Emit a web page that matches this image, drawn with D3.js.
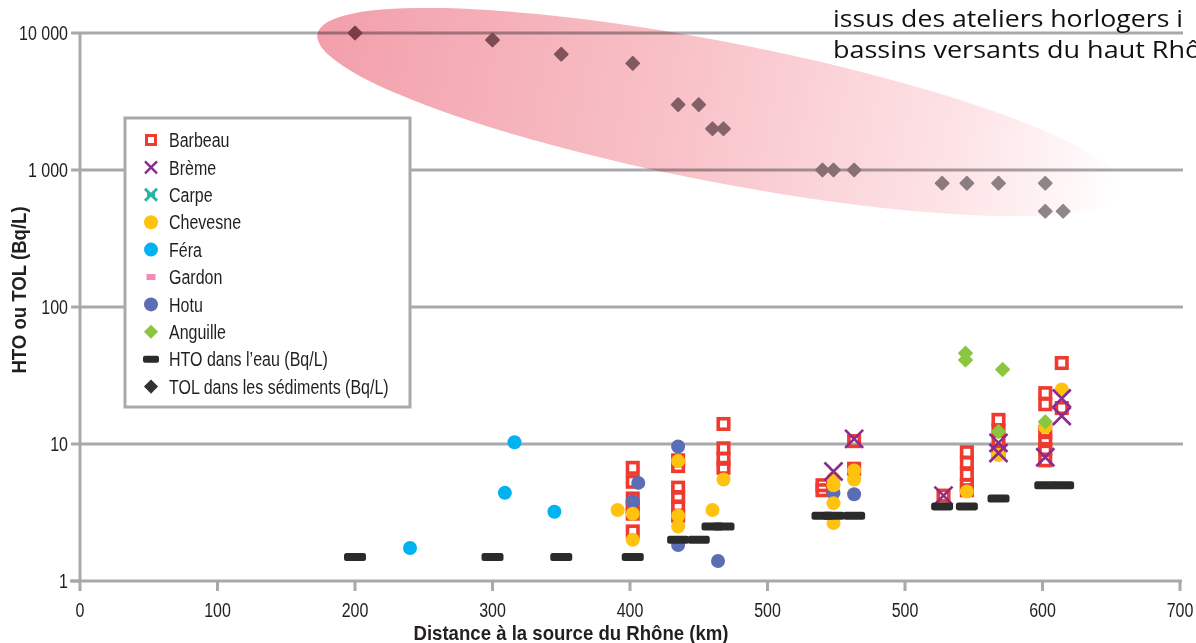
<!DOCTYPE html>
<html>
<head>
<meta charset="utf-8">
<script src="https://cdn.jsdelivr.net/npm/d3@7"></script>
<style>
  body { margin: 0; background: #fff; }
  svg { display: block; }
</style>
</head>
<body>
<div id="chart"></div>
<script>
// axis ticks (the source figure really labels two ticks "500")
const kmTicks = [0, 100, 200, 300, 400, 500, 600, 700, 800];
const kmTickLabels = ["0", "100", "200", "300", "400", "500", "500", "600", "700"];
const yTicks = [1, 10, 100, 1000, 10000];
const yTickLabels = ["1", "10", "100", "1 000", "10 000"];

// [distance km, Bq/L]
const barbeau = [
  [402, 6.7], [402, 5.3], [402, 4.0], [402, 3.5], [402, 3.1], [402, 2.3],
  [435, 7.6], [435, 6.9], [435, 4.8], [435, 4.1], [435, 3.5], [435, 3.0],
  [468, 14], [468, 9.3], [468, 7.8], [468, 6.7],
  [540, 5.0], [540, 4.6], [563, 10.5], [563, 6.6],
  [628, 4.2], [645, 8.7], [645, 7.3], [645, 6.0], [645, 5.0], [645, 4.6],
  [668, 15], [668, 12.6], [668, 10.5], [668, 8.7],
  [702, 23.5], [702, 19.5], [702, 12.2], [702, 10.5], [702, 9.2], [702, 7.6],
  [714, 39], [714, 18.3]
];
const hotu = [[406, 5.2], [402, 3.8], [435, 9.6], [435, 1.83], [464, 1.4], [548, 4.4], [563, 4.3]];
const chevesne = [
  [391, 3.3], [402, 3.1], [402, 2.0], [435, 7.5], [435, 3.0], [435, 2.5], [460, 3.3], [468, 5.5],
  [548, 5.6], [548, 5.0], [548, 3.7], [548, 2.65], [563, 6.4], [563, 5.5],
  [645, 4.5], [668, 8.3], [702, 13.3], [714, 25]
];
const fera = [[240, 1.74], [309, 4.4], [316, 10.3], [345, 3.2]];
const breme = [[563, 10.9], [548, 6.3], [628, 4.2], [668, 10.2], [668, 8.6], [702, 8.0], [714, 21.5], [714, 16]];
const anguille = [[644, 46], [644, 41], [671, 35], [668, 12.3], [702, 14.5]];
const htoEau = [
  [200, 1.5], [300, 1.5], [350, 1.5], [402, 1.5], [435, 2], [450, 2], [460, 2.5], [468, 2.5],
  [540, 3], [548, 3], [563, 3], [627, 3.5], [645, 3.5], [668, 4], [702, 5], [715, 5]
];
const tolSed = [
  [200, 10000], [300, 8900], [350, 7000], [402, 6000], [435, 3000], [450, 3000], [460, 2000], [468, 2000],
  [540, 1000], [548, 1000], [563, 1000], [627, 800], [645, 800], [668, 800], [702, 800], [702, 500], [715, 500]
];

const width = 1196, height = 643;
const font = "'Liberation Sans', Arial, sans-serif";
const squeeze = 0.8; // fake Arial Narrow
const grey = "#a7a9ac";
const ink = "#231f20";

const x = d3.scaleLinear().domain([0, 800]).range([80, 1180]);
const y = d3.scaleLog().domain([1, 10000]).range([581, 33]);

const svg = d3.select("#chart").append("svg")
    .attr("width", width)
    .attr("height", height)
    .style("font-family", font);

// narrow text helper
const narrowText = (g, tx, ty, str, opts = {}) => g.append("text")
    .attr("transform", `translate(${tx},${ty})${opts.rotate ? " rotate(" + opts.rotate + ")" : ""} scale(${opts.sx || squeeze},1)`)
    .attr("text-anchor", opts.anchor || "start")
    .attr("dy", opts.dy || null)
    .attr("font-size", opts.size || 20)
    .attr("font-weight", opts.bold ? "bold" : null)
    .attr("fill", ink)
    .text(str);

// gridlines
svg.append("g").selectAll("line")
    .data(yTicks.slice(1))
    .join("line")
    .attr("x1", 80).attr("x2", 1183)
    .attr("y1", d => y(d)).attr("y2", d => y(d))
    .attr("stroke", grey).attr("stroke-width", 3);

// pink band
const defs = svg.append("defs");
const grad = defs.append("linearGradient").attr("id", "pinkFade")
    .attr("x1", 0).attr("x2", 1).attr("y1", 0).attr("y2", 0);
grad.append("stop").attr("offset", 0).attr("stop-color", "#f29fab");
grad.append("stop").attr("offset", 0.45).attr("stop-color", "#f8c2c8");
grad.append("stop").attr("offset", 0.8).attr("stop-color", "#fde4e7");
grad.append("stop").attr("offset", 1).attr("stop-color", "#ffffff");

svg.append("ellipse")
    .attr("cx", 0).attr("cy", 0).attr("rx", 410).attr("ry", 70)
    .attr("transform", "translate(720,112) rotate(11)")
    .attr("fill", "url(#pinkFade)")
    .style("mix-blend-mode", "multiply");

// TOL diamonds, darker where the band is deeper
const tolColor = d3.scaleLinear().domain([200, 700]).range(["#7a3c47", "#8d8586"]);
svg.append("g").selectAll("rect")
    .data(tolSed)
    .join("rect")
    .attr("x", -5.5).attr("y", -5.5).attr("width", 11).attr("height", 11).attr("rx", 1)
    .attr("transform", d => `translate(${x(d[0])},${y(d[1])}) rotate(45)`)
    .attr("fill", d => tolColor(d[0]));

// axes
const axis = svg.append("g").attr("stroke", grey).attr("stroke-width", 3);
axis.append("line").attr("x1", 80).attr("x2", 80).attr("y1", 33).attr("y2", 582);
axis.append("line").attr("x1", 70).attr("x2", 1182).attr("y1", 581).attr("y2", 581);
axis.selectAll(".yt").data(yTicks).join("line").attr("class", "yt")
    .attr("x1", 71).attr("x2", 80).attr("y1", d => y(d)).attr("y2", d => y(d));
axis.selectAll(".xt").data(kmTicks).join("line").attr("class", "xt")
    .attr("x1", d => x(d)).attr("x2", d => x(d)).attr("y1", 581).attr("y2", 591);

const yLab = svg.append("g");
yTicks.forEach((t, i) => narrowText(yLab, 68, y(t), yTickLabels[i], { anchor: "end", dy: "0.36em" }));

const xLab = svg.append("g");
kmTicks.forEach((t, i) => narrowText(xLab, x(t), 617, kmTickLabels[i], { anchor: "middle" }));

narrowText(svg, 571, 640, "Distance à la source du Rhône (km)", { anchor: "middle", bold: true, size: 20, sx: 0.93 });
narrowText(svg, 26, 290, "HTO ou TOL (Bq/L)", { anchor: "middle", bold: true, size: 20, sx: 0.93, rotate: -90 });

// symbol makers
const marks = svg.append("g");

const squares = (g, data, s) => g.selectAll(null).data(data).join("rect")
    .attr("x", d => x(d[0]) - s / 2).attr("y", d => y(d[1]) - s / 2)
    .attr("width", s).attr("height", s)
    .attr("fill", "none").attr("stroke", "#ee3a2f").attr("stroke-width", 3.6);

const circles = (g, data, color, r) => g.selectAll(null).data(data).join("circle")
    .attr("cx", d => x(d[0])).attr("cy", d => y(d[1])).attr("r", r)
    .attr("fill", color);

const crosses = (g, data, color, s) => g.selectAll(null).data(data).join("path")
    .attr("d", d => {
        const cx = x(d[0]), cy = y(d[1]);
        return `M${cx - s},${cy - s}L${cx + s},${cy + s}M${cx - s},${cy + s}L${cx + s},${cy - s}`;
    })
    .attr("stroke", color).attr("stroke-width", 2.6).attr("fill", "none");

const diamonds = (g, data, color, s) => g.selectAll(null).data(data).join("rect")
    .attr("x", -s / 2).attr("y", -s / 2).attr("width", s).attr("height", s).attr("rx", 1)
    .attr("transform", d => `translate(${x(d[0])},${y(d[1])}) rotate(45)`)
    .attr("fill", color);

const dashes = (g, data, w, h) => g.selectAll(null).data(data).join("rect")
    .attr("x", d => x(d[0]) - w / 2).attr("y", d => y(d[1]) - h / 2)
    .attr("width", w).attr("height", h).attr("rx", 2.5)
    .attr("fill", "#2b2b2b");

squares(marks.append("g"), barbeau, 10.5);
circles(marks.append("g"), hotu, "#5b6db4", 7);
circles(marks.append("g"), chevesne, "#ffc20e", 7);
circles(marks.append("g"), fera, "#00b2ef", 7);
crosses(marks.append("g"), breme, "#8a2c8e", 9);
diamonds(marks.append("g"), anguille, "#8cc63f", 11);
dashes(marks.append("g"), htoEau, 22, 8);

// legend
const legendItems = [
    { name: "Barbeau", type: "square" },
    { name: "Brème", type: "cross", color: "#8a2c8e" },
    { name: "Carpe", type: "star", color: "#26b5a8" },
    { name: "Chevesne", type: "circle", color: "#ffc20e" },
    { name: "Féra", type: "circle", color: "#00b2ef" },
    { name: "Gardon", type: "bar", color: "#f08cb6" },
    { name: "Hotu", type: "circle", color: "#5b6db4" },
    { name: "Anguille", type: "diamond", color: "#8cc63f" },
    { name: "HTO dans l\u2019eau (Bq/L)", type: "dash" },
    { name: "TOL dans les sédiments (Bq/L)", type: "diamond", color: "#333333" }
];

const legend = svg.append("g");
legend.append("rect")
    .attr("x", 125).attr("y", 118).attr("width", 285).attr("height", 289)
    .attr("fill", "#fff").attr("stroke", grey).attr("stroke-width", 3);

const rows = legend.selectAll("g.row").data(legendItems).join("g")
    .attr("class", "row")
    .attr("transform", (d, i) => `translate(151,${140 + i * 27.4})`);

rows.each(function (d) {
    const g = d3.select(this);
    if (d.type === "square") {
        g.append("rect").attr("x", -4.5).attr("y", -4.5).attr("width", 9).attr("height", 9)
            .attr("fill", "none").attr("stroke", "#ee3a2f").attr("stroke-width", 3);
    } else if (d.type === "cross") {
        g.append("path").attr("d", "M-6,-6L6,6M-6,6L6,-6")
            .attr("stroke", d.color).attr("stroke-width", 2.4);
    } else if (d.type === "star") {
        g.append("path").attr("d", "M-6,-6L6,6M-6,6L6,-6M-4,0L4,0")
            .attr("stroke", d.color).attr("stroke-width", 3);
    } else if (d.type === "circle") {
        g.append("circle").attr("r", 7).attr("fill", d.color);
    } else if (d.type === "bar") {
        g.append("rect").attr("x", -4.5).attr("y", -3).attr("width", 9).attr("height", 6).attr("fill", d.color);
    } else if (d.type === "diamond") {
        g.append("rect").attr("x", -5).attr("y", -5).attr("width", 10).attr("height", 10)
            .attr("transform", "rotate(45)").attr("fill", d.color);
    } else if (d.type === "dash") {
        g.append("rect").attr("x", -8).attr("y", -3.5).attr("width", 16).attr("height", 7).attr("rx", 2)
            .attr("fill", "#2b2b2b");
    }
    narrowText(g, 18, 0, d.name, { dy: "0.36em" });
});

// slide text cut off at the top right
const note = svg.append("g")
    .style("font-family", "'Open Sans', 'Liberation Sans', sans-serif")
    .attr("font-size", 24).attr("fill", "#111");
note.append("text").attr("x", 833).attr("y", 27)
    .attr("textLength", 350).attr("lengthAdjust", "spacingAndGlyphs")
    .text("issus des ateliers horlogers i");
note.append("text").attr("x", 833).attr("y", 58)
    .attr("textLength", 400).attr("lengthAdjust", "spacingAndGlyphs")
    .text("bassins versants du haut Rhône");
</script>
</body>
</html>
